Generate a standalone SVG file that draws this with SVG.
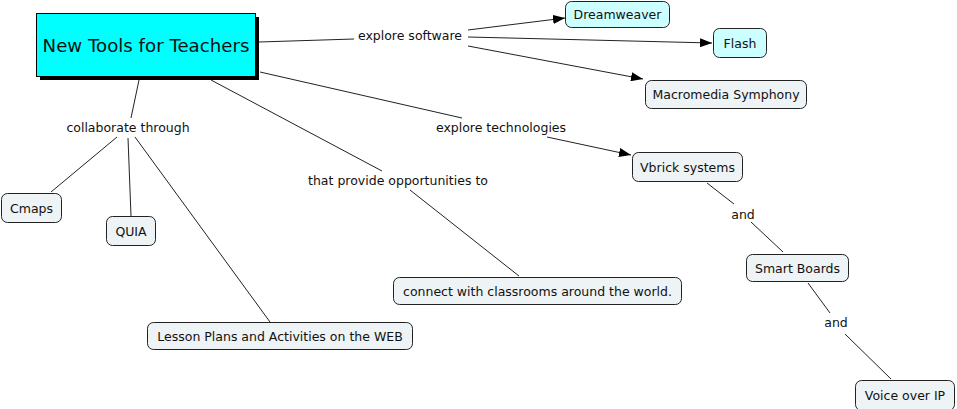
<svg xmlns="http://www.w3.org/2000/svg" width="957" height="409" viewBox="0 0 957 409">
<style>
.t{font-family:"DejaVu Sans",Verdana,sans-serif;font-size:12.5px;fill:#111;text-anchor:middle}
.n{fill:#EEF3F5;stroke:#222;stroke-width:1}
.c{fill:#CCFFFF;stroke:#222;stroke-width:1}
.l{stroke:#222;stroke-width:1;fill:none}
</style>
<defs>
<marker id="ar" markerUnits="userSpaceOnUse" markerWidth="13" markerHeight="9" refX="12" refY="4.5" orient="auto">
<path d="M0,0 L12,4.5 L0,9 z" fill="#000"/>
</marker>
</defs>
<rect width="957" height="409" fill="#fff"/>
<g id="connectors">
<line class="l" x1="259" y1="42" x2="354" y2="39"/>
<line class="l" x1="468" y1="30" x2="565" y2="18" marker-end="url(#ar)"/>
<line class="l" x1="468" y1="37" x2="712" y2="43" marker-end="url(#ar)"/>
<line class="l" x1="468" y1="46" x2="643" y2="79" marker-end="url(#ar)"/>
<line class="l" x1="260" y1="72" x2="462" y2="118"/>
<line class="l" x1="547" y1="137" x2="631" y2="155" marker-end="url(#ar)"/>
<line class="l" x1="211" y1="80" x2="382" y2="171"/>
<line class="l" x1="410" y1="190" x2="519" y2="276"/>
<line class="l" x1="139" y1="80" x2="131" y2="118"/>
<line class="l" x1="117" y1="137" x2="51" y2="192"/>
<line class="l" x1="128" y1="138" x2="131" y2="216"/>
<line class="l" x1="135" y1="137" x2="270" y2="322"/>
<line class="l" x1="707" y1="183" x2="734" y2="204"/>
<line class="l" x1="751" y1="222" x2="783" y2="252"/>
<line class="l" x1="808" y1="283" x2="830" y2="313"/>
<line class="l" x1="845" y1="334" x2="891" y2="379"/>
</g>
<g id="main">
<rect x="40" y="17" width="219" height="63" fill="#000"/>
<rect x="36.5" y="13.5" width="219" height="63" fill="#00FFFF" stroke="#000" stroke-width="1"/>
<text x="146" y="51.5" style="font-family:'DejaVu Sans',Verdana,sans-serif;font-size:18.2px;fill:#111;text-anchor:middle">New Tools for Teachers</text>
</g>
<g id="label-explore-software"><text class="t" x="410" y="40">explore software</text></g>
<g id="label-explore-technologies"><text class="t" x="501" y="132">explore technologies</text></g>
<g id="label-that-provide"><text class="t" x="398" y="185">that provide opportunities to</text></g>
<g id="label-collaborate"><text class="t" x="128" y="132">collaborate through</text></g>
<g id="label-and1"><text class="t" x="743" y="219">and</text></g>
<g id="label-and2"><text class="t" x="836" y="327">and</text></g>
<g id="dreamweaver"><rect class="c" x="565.5" y="1.5" width="104" height="26" rx="6"/><text class="t" x="617.5" y="19">Dreamweaver</text></g>
<g id="flash"><rect class="c" x="713.5" y="28.5" width="53" height="29" rx="6"/><text class="t" x="740" y="48">Flash</text></g>
<g id="macromedia"><rect class="n" x="645.5" y="80.5" width="161" height="28" rx="6"/><text class="t" x="726" y="99">Macromedia Symphony</text></g>
<g id="vbrick"><rect class="n" x="632.5" y="152.5" width="110" height="29" rx="6"/><text class="t" x="687.5" y="171.5">Vbrick systems</text></g>
<g id="smartboards"><rect class="n" x="746.5" y="254.5" width="102" height="27" rx="6"/><text class="t" x="797.5" y="272.5">Smart Boards</text></g>
<g id="voiceoverip"><rect class="n" x="855.5" y="380.5" width="99" height="30" rx="6"/><text class="t" x="905" y="399.5">Voice over IP</text></g>
<g id="cmaps"><rect class="n" x="1.5" y="193.5" width="60" height="29" rx="6"/><text class="t" x="31.5" y="212.5">Cmaps</text></g>
<g id="quia"><rect class="n" x="106.5" y="216.5" width="49" height="29" rx="6"/><text class="t" x="131" y="235.5">QUIA</text></g>
<g id="lessonplans"><rect class="n" x="147.5" y="322.5" width="265" height="27" rx="6"/><text class="t" x="280" y="340.5">Lesson Plans and Activities on the WEB</text></g>
<g id="connect"><rect class="n" x="393.5" y="277.5" width="288" height="27" rx="6"/><text class="t" x="537.5" y="295.5">connect with classrooms around the world.</text></g>
</svg>
